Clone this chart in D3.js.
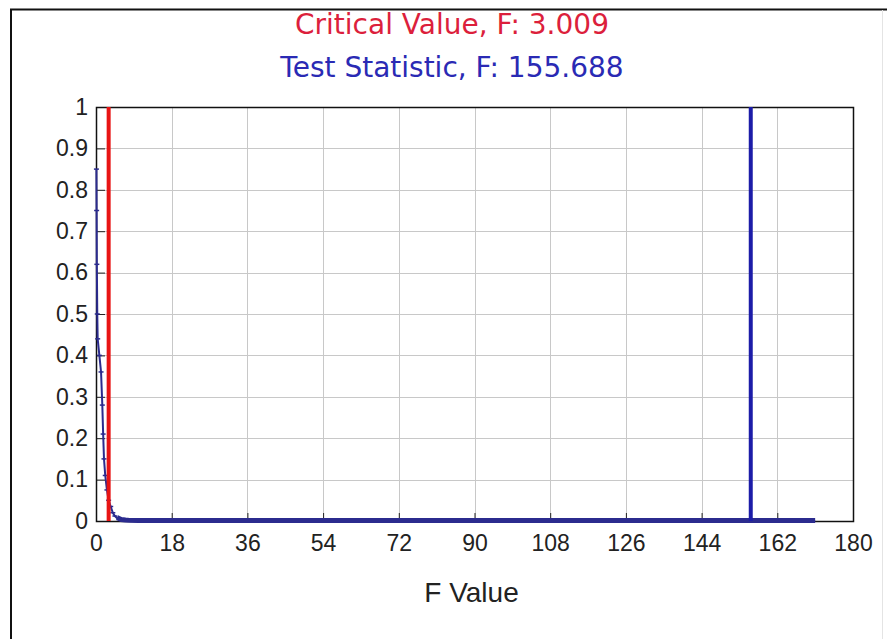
<!DOCTYPE html>
<html>
<head>
<meta charset="utf-8">
<script src="https://cdn.jsdelivr.net/npm/d3@7"></script>
<style>
  body { margin: 0; background: #fff; }
  svg { display: block; }
</style>
</head>
<body>
<script>
// values
const criticalF = 3.009;
const testF = 155.688;
const xTicks = [0, 18, 36, 54, 72, 90, 108, 126, 144, 162, 180];
const yTicks = [0, 0.1, 0.2, 0.3, 0.4, 0.5, 0.6, 0.7, 0.8, 0.9, 1];
const fValues = [0.1, 0.15, 0.2, 0.3, 0.4, 0.8, 1.2, 1.5, 1.7, 1.9, 2.2, 2.6, 3.0, 3.5, 4.0, 4.5, 5.0, 6.0, 7.0, 8.0, 10, 20, 40, 60, 80, 100, 120, 140, 160, 171];
const density = [0.85, 0.75, 0.62, 0.5, 0.44, 0.40, 0.36, 0.28, 0.21, 0.15, 0.11, 0.075, 0.05, 0.035, 0.02, 0.012, 0.007, 0.0025, 0.001, 0.0003, 0, 0, 0, 0, 0, 0, 0, 0, 0, 0];

const W = 887, H = 639;
const margin = { top: 107, right: 34, bottom: 118, left: 96 },
      width = W - margin.left - margin.right,
      height = H - margin.top - margin.bottom;

const svg = d3.select("body").append("svg")
    .attr("width", W)
    .attr("height", H);

// outer frame of the window
svg.append("path")
    .attr("d", `M11,${H} V9.5 H${W}`)
    .attr("fill", "none")
    .attr("stroke", "#111")
    .attr("stroke-width", 2);
svg.append("line")
    .attr("x1", 882.5).attr("x2", 882.5).attr("y1", 10).attr("y2", H)
    .attr("stroke", "#e4e4e4");

const tickFont = "'Liberation Sans', Arial, sans-serif";

svg.append("text")
    .attr("x", 452).attr("y", 34)
    .attr("text-anchor", "middle")
    .style("font-family", "'DejaVu Sans', sans-serif")
    .style("font-size", "28px")
    .style("fill", "#dc1f3c")
    .text(`Critical Value, F: ${criticalF.toFixed(3)}`);

svg.append("text")
    .attr("x", 452).attr("y", 77)
    .attr("text-anchor", "middle")
    .style("font-family", "'DejaVu Sans', sans-serif")
    .style("font-size", "28px")
    .style("fill", "#2a2ab4")
    .text(`Test Statistic, F: ${testF.toFixed(3)}`);

const g = svg.append("g")
    .attr("transform", `translate(${margin.left},${margin.top})`);

const x = d3.scaleLinear().domain([0, 180]).range([0, width]);
const y = d3.scaleLinear().domain([0, 1]).range([height, 0]);

// grid
g.append("g")
  .selectAll("line")
  .data(xTicks.slice(1, -1))
  .join("line")
    .attr("x1", d => Math.round(x(d)) + 0.5)
    .attr("x2", d => Math.round(x(d)) + 0.5)
    .attr("y1", 0).attr("y2", height)
    .attr("stroke", "#c8c8c8");

g.append("g")
  .selectAll("line")
  .data(yTicks.slice(1, -1))
  .join("line")
    .attr("y1", d => Math.round(y(d)) + 0.5)
    .attr("y2", d => Math.round(y(d)) + 0.5)
    .attr("x1", 0).attr("x2", width)
    .attr("stroke", "#c8c8c8");

// axes with inward ticks
const xAxis = g.append("g")
    .attr("transform", `translate(0,${height})`)
    .call(d3.axisBottom(x).tickValues(xTicks).tickSizeInner(-8).tickSizeOuter(0).tickPadding(14));
const yAxis = g.append("g")
    .call(d3.axisLeft(y).tickValues(yTicks).tickFormat(d => d3.format("")(+d.toFixed(1))).tickSizeInner(-9).tickSizeOuter(0).tickPadding(8));

[xAxis, yAxis].forEach(a => {
  a.select(".domain").remove();
  a.selectAll(".tick line").attr("stroke", "#222");
  a.selectAll(".tick text")
    .style("font-family", tickFont)
    .style("font-size", "23px")
    .style("fill", "#222");
});

// plot frame
g.append("rect")
    .attr("x", 0.5).attr("y", 0.5)
    .attr("width", width).attr("height", height)
    .attr("fill", "none")
    .attr("stroke", "#111")
    .attr("stroke-width", 1.5);

const pts = fValues.map((f, i) => [f, density[i]]);

// tail of the curve along zero, drawn heavier like the marker band
const tail = pts.filter(p => p[1] < 0.008);
g.append("path")
    .datum(tail)
    .attr("fill", "none")
    .attr("stroke", "#2b2b8e")
    .attr("stroke-width", 5)
    .attr("d", d3.line().x(d => x(d[0])).y(d => y(d[1]) - 0.5));

g.append("path")
    .datum(pts)
    .attr("fill", "none")
    .attr("stroke", "#2b2b8e")
    .attr("stroke-width", 2)
    .attr("d", d3.line().x(d => x(d[0])).y(d => y(d[1])));

g.append("g")
  .selectAll("line")
  .data(pts.filter(p => p[1] > 0.008))
  .join("line")
    .attr("x1", d => x(d[0]) - 2.5).attr("x2", d => x(d[0]) + 2.5)
    .attr("y1", d => y(d[1])).attr("y2", d => y(d[1]))
    .attr("stroke", "#2b2b8e")
    .attr("stroke-width", 1.5);

// critical value and test statistic lines
g.append("line")
    .attr("x1", x(criticalF)).attr("x2", x(criticalF))
    .attr("y1", 0).attr("y2", height)
    .attr("stroke", "#e81414")
    .attr("stroke-width", 4);

g.append("line")
    .attr("x1", x(testF)).attr("x2", x(testF))
    .attr("y1", 0).attr("y2", height)
    .attr("stroke", "#1c1ca8")
    .attr("stroke-width", 4);

svg.append("text")
    .attr("x", margin.left + width / 2 - 3)
    .attr("y", 602)
    .attr("text-anchor", "middle")
    .style("font-family", tickFont)
    .style("font-size", "28px")
    .style("fill", "#222")
    .text("F Value");
</script>
</body>
</html>
